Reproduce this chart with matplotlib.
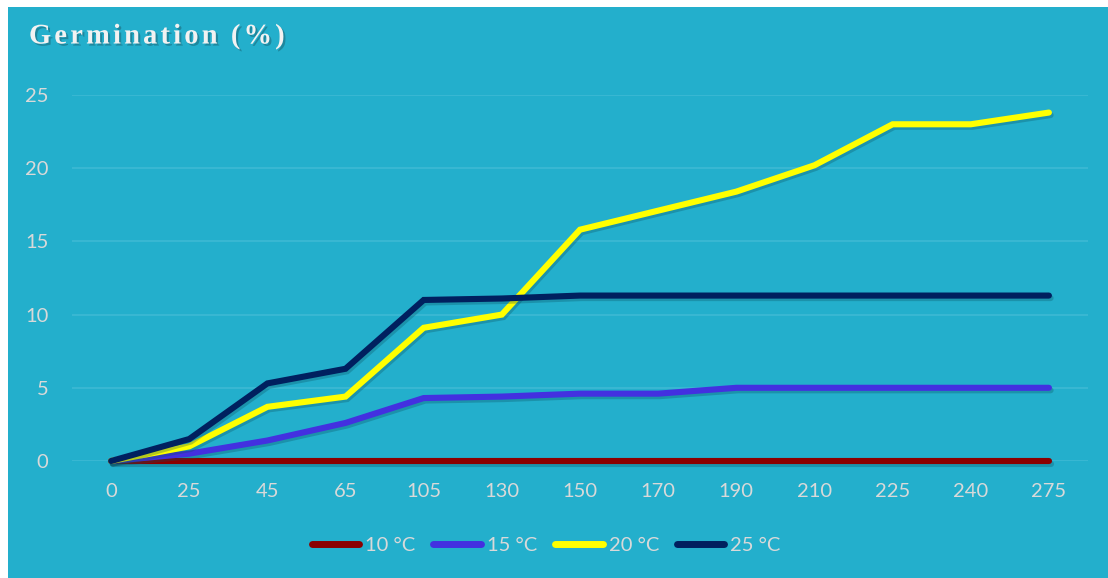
#!/usr/bin/env python3

import matplotlib
matplotlib.use('Agg')
import matplotlib.pyplot as plt
import matplotlib.patheffects as pe
from matplotlib.patches import Rectangle

# data
times = ['0', '25', '45', '65', '105', '130', '150', '170', '190', '210', '225', '240', '275']
t10 = [0, 0, 0, 0, 0, 0, 0, 0, 0, 0, 0, 0, 0]
t15 = [0, 0.5, 1.4, 2.6, 4.3, 4.4, 4.6, 4.6, 5.0, 5.0, 5.0, 5.0, 5.0]
t20 = [0, 1.0, 3.7, 4.4, 9.1, 10.0, 15.8, 17.1, 18.4, 20.2, 23.0, 23.0, 23.8]
t25 = [0, 1.5, 5.3, 6.3, 11.0, 11.1, 11.3, 11.3, 11.3, 11.3, 11.3, 11.3, 11.3]
series = [('10 °C', t10, '#8B0000'), ('15 °C', t15, '#4330E0'),
          ('20 °C', t20, '#FFFF00'), ('25 °C', t25, '#00205F')]
title = 'Germination (%)'

bg = '#23AFCC'
txt = '#D9D9D9'
W, H = 1108, 578

fig = plt.figure(figsize=(W / 100, H / 100), dpi=100, facecolor='white')
fig.patches.append(Rectangle((8 / W, 0), 1, 1 - 7 / H, transform=fig.transFigure,
                             facecolor=bg, edgecolor='none', zorder=-10))

ax = fig.add_axes([72 / W, 1 - 461 / H, 1016 / W, 366 / H])
ax.set_facecolor('none')

x = list(range(len(times)))
for name, vals, col in series:
    ax.plot(x, vals, color=col, lw=4.4, label=name, solid_capstyle='round',
            solid_joinstyle='miter', clip_on=False,
            path_effects=[pe.SimpleLineShadow(offset=(1.2, -1.8), shadow_color='#0A4F60', alpha=0.3),
                          pe.Normal()])

ax.set_xlim(-0.5, len(times) - 0.5)
ax.set_ylim(0, 25)
ax.set_xticks(x)
ax.set_xticklabels(times)
ax.set_yticks([0, 5, 10, 15, 20, 25])
ax.tick_params(axis='both', length=0, labelsize=14.5, labelcolor=txt)
ax.tick_params(axis='x', pad=16)
ax.tick_params(axis='y', pad=17)
for lab in ax.get_xticklabels() + ax.get_yticklabels():
    lab.set_family('Lato')
ax.grid(axis='y', color='#3DB9D4', lw=1.2)
ax.set_axisbelow(True)
for s in ax.spines.values():
    s.set_visible(False)

leg = fig.legend(loc='center', bbox_to_anchor=(0.493, 1 - 545 / H), ncol=4, frameon=False,
                 prop={'family': 'Lato', 'size': 14.5}, handlelength=2.35, handletextpad=0.3,
                 columnspacing=0.9, labelcolor=txt)
for h in leg.get_lines():
    h.set_linewidth(5)
    h.set_path_effects([])

# title with letter spacing, drawn char by char
renderer = fig.canvas.get_renderer()
xpos = 29
for ch in title:
    t = fig.text(xpos / W, 1 - 37 / H, ch, fontsize=20.5, fontweight='bold',
                 family='Liberation Serif', color='#F2F2F2', va='center', ha='left',
                 path_effects=[pe.withSimplePatchShadow(offset=(1.5, -1.5), shadow_rgbFace='#1A6070', alpha=0.5)])
    w = t.get_window_extent(renderer).width
    if ch == ' ':
        w = 7
    xpos += w + 3.2

plt.savefig('out.png', dpi=100, facecolor='white')
